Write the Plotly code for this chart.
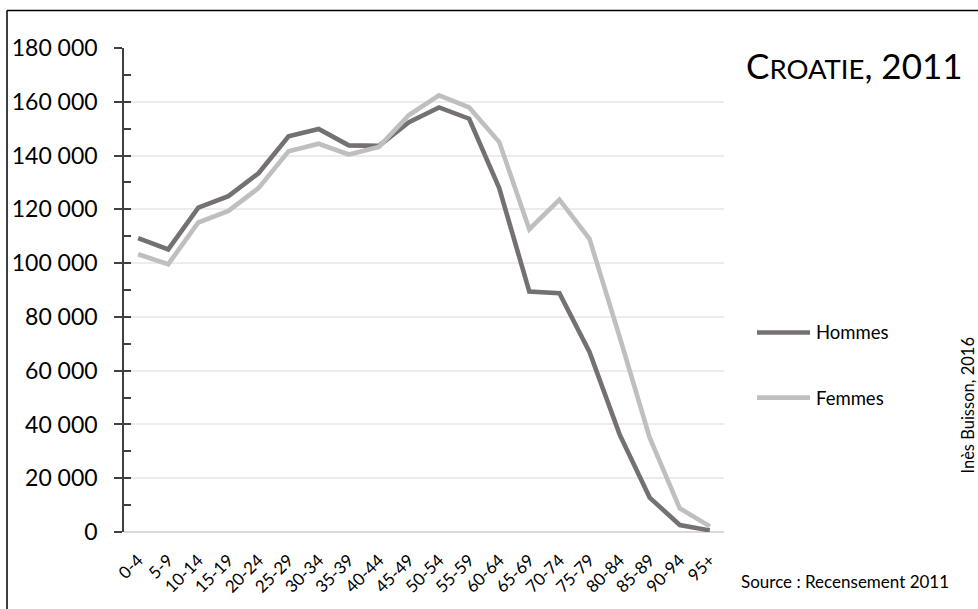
import plotly.graph_objects as go

age_groups = ["0-4", "5-9", "10-14", "15-19", "20-24", "25-29", "30-34", "35-39",
              "40-44", "45-49", "50-54", "55-59", "60-64", "65-69", "70-74", "75-79",
              "80-84", "85-89", "90-94", "95+"]
hommes = [109300, 105100, 120600, 124900, 133400, 147200, 149900, 143800, 143600, 152400,
          157900, 153700, 127900, 89400, 88800, 67000, 36300, 12800, 2600, 600]
femmes = [103300, 99600, 115100, 119400, 127900, 141600, 144400, 140400, 143200, 155100,
          162400, 157900, 145000, 112600, 123600, 109000, 72600, 35100, 8800, 2100]
y_ticks = [0, 20000, 40000, 60000, 80000, 100000, 120000, 140000, 160000, 180000]
series_names = ["Hommes", "Femmes"]
series_colors = ["#767171", "#BFBFBF"]

W, H = 978, 609
L, R, T, B = 124, 254, 48, 71
PW, PH = W - L - R, H - T - B


def px(x):
    return (x - L) / PW


def py(y):
    return (H - B - y) / PH


FONT = "Lato"

fig = go.Figure()
for name, vals, col in zip(series_names, [hommes, femmes], series_colors):
    fig.add_trace(go.Scatter(x=age_groups, y=vals, mode="lines", name=name,
                             line=dict(color=col, width=4.6), showlegend=False))

fig.update_layout(
    width=W, height=H,
    margin=dict(l=L, r=R, t=T, b=B, pad=0),
    paper_bgcolor="white", plot_bgcolor="white",
    separators=", ",
    font=dict(family=FONT, color="#000000"),
    showlegend=False,
    xaxis=dict(type="category", range=[-0.47, 19.47], showgrid=False, showline=False,
               zeroline=False, ticks="", tickangle=-45,
               tickfont=dict(size=17, family=FONT, color="#000"),
               ticklabelstandoff=14),
    yaxis=dict(range=[0, 180000], tickvals=y_ticks, tickformat=",d",
               showgrid=True, gridcolor="#ECECEC", gridwidth=1.5,
               zeroline=True, zerolinecolor="#D9D9D9", zerolinewidth=1.5,
               showline=True, linecolor="#404040", linewidth=1.5,
               ticks="outside", ticklen=8, tickwidth=1.5, tickcolor="#404040",
               tickfont=dict(size=23, family=FONT, color="#000"),
               ticklabelstandoff=12),
    yaxis2=dict(range=[0, 180000], overlaying="y", side="left", dtick=10000,
                showticklabels=False, showgrid=False, zeroline=False, showline=False,
                ticks="inside", ticklen=7, tickwidth=1.5, tickcolor="#404040"),
)

# dummy trace to activate yaxis2 minor tick marks
fig.add_trace(go.Scatter(x=[age_groups[0]], y=[None], yaxis="y2", showlegend=False,
                         hoverinfo="skip"))

# legend (long line samples like the reference)
leg_y = [336, 402]
for name, col, yy in zip(series_names, series_colors, leg_y):
    fig.add_shape(type="line", xref="paper", yref="paper", x0=px(757), x1=px(810),
                  y0=py(yy), y1=py(yy), line=dict(color=col, width=4.6))
    fig.add_annotation(text=name, xref="paper", yref="paper", x=px(814), y=py(yy),
                       xanchor="left", yanchor="middle", showarrow=False,
                       font=dict(size=18.5, family=FONT, color="#000"))

fig.add_annotation(text="C<span style='font-size:27.5px'>ROATIE</span>, 2011",
                   xref="paper", yref="paper", x=px(744), y=py(65),
                   xanchor="left", yanchor="middle", showarrow=False,
                   font=dict(size=35, family=FONT, color="#000"))
fig.add_annotation(text="Inès Buisson, 2016", textangle=-90,
                   xref="paper", yref="paper", x=px(968), y=py(410),
                   xanchor="center", yanchor="middle", showarrow=False,
                   font=dict(size=16.5, family=FONT, color="#000"))
fig.add_annotation(text="Source : Recensement 2011",
                   xref="paper", yref="paper", x=px(739), y=py(588),
                   xanchor="left", yanchor="middle", showarrow=False,
                   font=dict(size=17, family=FONT, color="#000"))

# outer frame (top and left edges visible)
fig.add_shape(type="line", xref="paper", yref="paper", x0=px(7), x1=px(990),
              y0=py(10), y1=py(10), line=dict(color="#000", width=1.5))
fig.add_shape(type="line", xref="paper", yref="paper", x0=px(7), x1=px(7),
              y0=py(10), y1=py(620), line=dict(color="#000", width=1.5))

fig.write_html("out.html", config={"displayModeBar": False},
               post_script="document.body.style.margin='0px';")
